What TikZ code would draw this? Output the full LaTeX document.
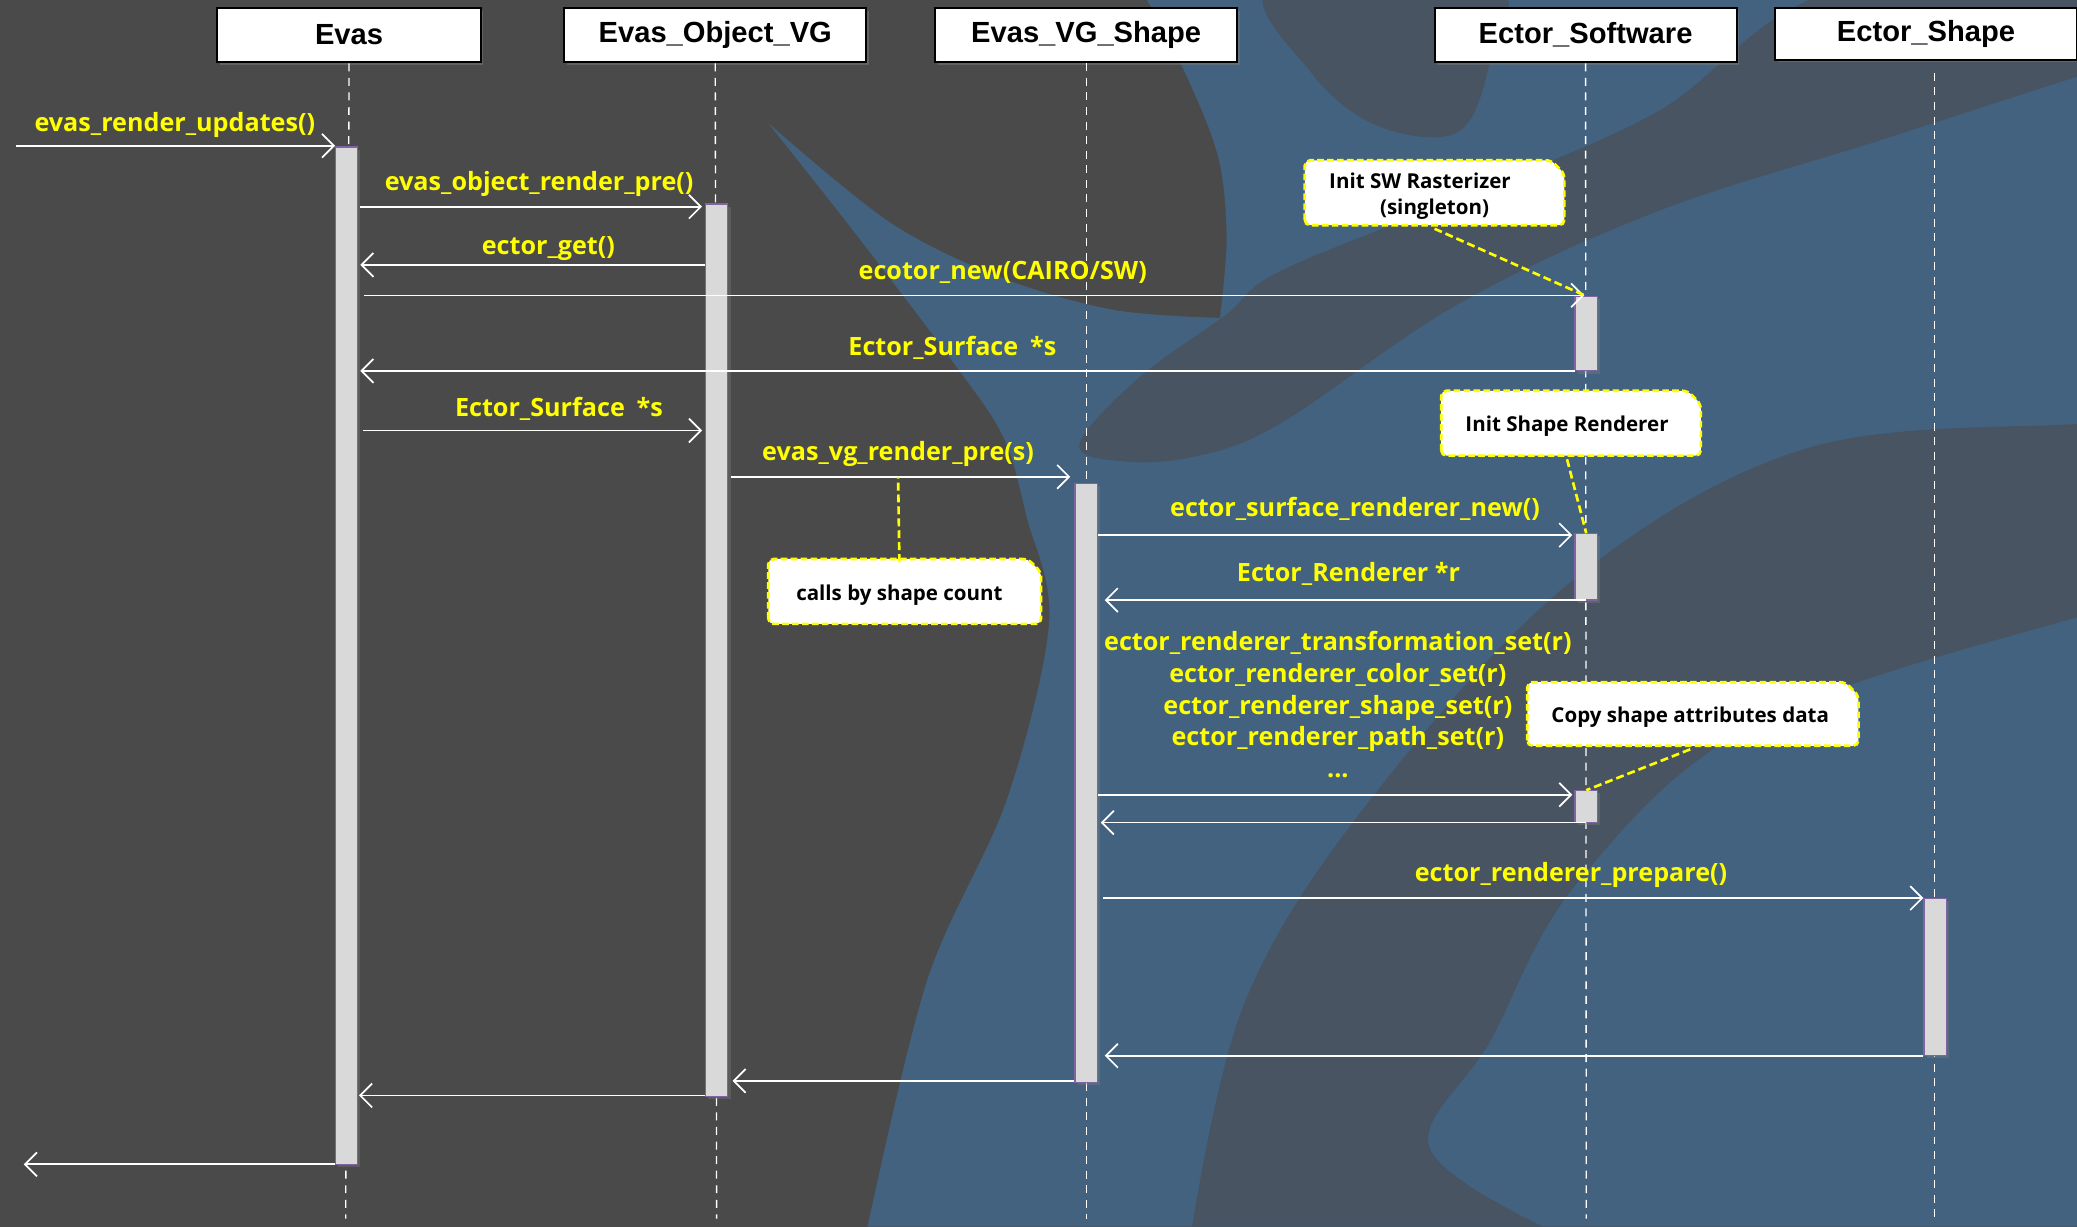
\documentclass[tikz,border=0pt]{standalone}
\usepackage{fontspec}
\setmainfont{Liberation Sans}
\newfontfamily\msgfont{Open Sans}
\usetikzlibrary{arrows.meta,shadows}

\definecolor{bgdark}{HTML}{4A4A4A}
\definecolor{bgblue}{HTML}{42627F}
\definecolor{bgband}{HTML}{485461}
\definecolor{msgyellow}{HTML}{FFFF00}
\definecolor{barfill}{HTML}{D9D9D9}
\definecolor{barline}{HTML}{8064A2}

\tikzset{
  head/.style={draw=black, fill=white, line width=1.6pt, minimum height=41pt,
    inner sep=0pt, font=\bfseries\fontsize{22}{24}\selectfont,
    drop shadow={shadow xshift=2pt, shadow yshift=-2pt, opacity=.45}},
  lifeline/.style={draw=white, line width=1pt, dash pattern=on 6pt off 5pt},
  actbar/.style={draw=barline, fill=barfill, line width=.9pt, minimum width=17pt,
    inner sep=0pt, drop shadow={shadow xshift=2pt, shadow yshift=-2pt, opacity=.35}},
  msg/.style={draw=white, line width=1.3pt,
    -{Straight Barb[length=9pt, width=18pt]}},
  msglabel/.style={text=msgyellow, inner sep=0pt, yshift=-1.5pt,
    font=\msgfont\bfseries\fontsize{19}{24}\selectfont},
  notebox/.style={fill=white, draw=msgyellow, line width=2pt,
    dash pattern=on 5pt off 2.5pt, rounded corners=4pt},
  notetext/.style={inner sep=0pt, text=black, align=center, yshift=-2.5pt,
    font=\msgfont\bfseries\fontsize{15.5}{20}\selectfont},
  notelink/.style={draw=msgyellow, line width=2pt, dash pattern=on 6pt off 3pt}
}

% note outline: left, top, right, bottom (top-right corner cut)
\newcommand\noteshape[4]{%
  \filldraw[notebox] (#1,#4) -- (#1,#2) -- (#3-10,#2) -- (#3,#2+10) -- (#3,#4) -- cycle;}

\begin{document}
\begin{tikzpicture}[x=1pt, y=-1pt]
\useasboundingbox (0,0) rectangle (1568,926);

% ---- backdrop ----
\fill[bgdark] (0,0) rectangle (1568,926);
\fill[bgblue]
  plot[smooth, tension=.55] coordinates {(580,93) (672,168) (757,210) (841,234) (921,240)}
  -- plot[smooth, tension=.55] coordinates {(921,240) (926,180) (920,120) (897,60) (866,0)}
  -- (1568,0) -- (1568,926) -- (655,926)
  -- plot[smooth, tension=.55] coordinates {(655,926) (700,740) (760,604) (792,470) (775,390) (757,329) (717,270) (644,174) (580,93)}
  -- cycle;
\fill[bgband] plot[smooth cycle, tension=.6] coordinates {
  (960,-10) (1127,-10) (1124,50) (1100,100) (1040,95) (990,55)};
\fill[bgband] plot[smooth cycle, tension=.6] coordinates {
  (815,335) (860,285) (925,238) (966,205) (1100,150) (1250,85) (1380,-5)
  (1600,-20) (1600,50) (1568,58) (1419,106) (1250,160) (1100,230) (966,320) (900,345) (845,348)};
\fill[bgband]
  plot[smooth, tension=.6] coordinates {(1600,318) (1568,320) (1362,339) (1185,440) (1032,607) (940,756) (900,926)}
  -- (1165,926)
  -- plot[smooth, tension=.6] coordinates {(1165,926) (1079,866) (1125,786) (1191,666) (1324,547) (1568,466) (1600,466)}
  -- cycle;

% ---- participants ----
\node[head, minimum width=199pt] (evas) at (263.5,26.5) {Evas};
\node[head, minimum width=228pt] (eovg) at (540,26.5) {Evas\_Object\_VG};
\node[head, minimum width=228pt] (evgs) at (820,26.5) {Evas\_VG\_Shape};
\node[head, minimum width=228pt] (esw)  at (1197,26.5) {Ector\_Software};
\node[head, minimum width=228pt, minimum height=39pt] (esh) at (1454,25.5) {Ector\_Shape};

\coordinate (evasEnd) at (261,920);
\coordinate (eovgEnd) at (541,920);
\coordinate (evgsEnd) at (820,920);
\coordinate (eswEnd)  at (1197.5,920);
\coordinate (eshTop)  at (1460.5,55);
\coordinate (eshEnd)  at (1460.5,920);
\draw[lifeline] (evas.south) -- (evasEnd);
\draw[lifeline] (eovg.south) -- (eovgEnd);
\draw[lifeline] (evgs.south) -- (evgsEnd);
\draw[lifeline] (esw.south)  -- (eswEnd);
\draw[lifeline] (eshTop) -- (eshEnd);

% ---- activations ----
\node[actbar, minimum height=768pt] (bE)  at (261.5,495) {};
\node[actbar, minimum height=674pt] (bO)  at (541,491) {};
\node[actbar, minimum height=452pt] (bV)  at (820,591) {};
\node[actbar, minimum height=56pt]  (bS1) at (1197.5,252) {};
\node[actbar, minimum height=50pt]  (bS2) at (1197.5,428) {};
\node[actbar, minimum height=24pt]  (bS3) at (1197.5,609) {};
\node[actbar, minimum height=119pt] (bSh) at (1461,737.5) {};

% ---- message end points ----
\coordinate (m1a) at (12,110);    \coordinate (m1b) at (253,110);
\coordinate (m2a) at (272,156);   \coordinate (m2b) at (530,156);
\coordinate (m3a) at (532,200);   \coordinate (m3b) at (272,200);
\coordinate (m4a) at (275,223);   \coordinate (m4b) at (1196,223);
\coordinate (m5a) at (1189,280);  \coordinate (m5b) at (272,280);
\coordinate (m6a) at (274,325);   \coordinate (m6b) at (530,325);
\coordinate (m7a) at (552,360);   \coordinate (m7b) at (808,360);
\coordinate (m7c) at (678,360);
\coordinate (m8a) at (829,404);   \coordinate (m8b) at (1187,404);
\coordinate (m9a) at (1197,453);  \coordinate (m9b) at (834,453);
\coordinate (m10a) at (829,600);  \coordinate (m10b) at (1187,600);
\coordinate (m11a) at (1197,621); \coordinate (m11b) at (831,621);
\coordinate (m12a) at (833,678);  \coordinate (m12b) at (1452,678);
\coordinate (m13a) at (1452,797); \coordinate (m13b) at (834,797);
\coordinate (m14a) at (811,816);  \coordinate (m14b) at (553,816);
\coordinate (m15a) at (532,827);  \coordinate (m15b) at (271,827);
\coordinate (m16a) at (253,879);  \coordinate (m16b) at (18,879);

\foreach \m in {1,...,16} \draw[msg] (m\m a) -- (m\m b);

% ---- message labels ----
\node[msglabel] (l1)  at (132,93)   {evas\_render\_updates()};
\node[msglabel] (l2)  at (407,137)  {evas\_object\_render\_pre()};
\node[msglabel] (l3)  at (414,186)  {ector\_get()};
\node[msglabel] (l4)  at (757,204)  {ecotor\_new(CAIRO/SW)};
\node[msglabel] (l5)  at (719,261)  {Ector\_Surface\hspace{4pt} *s};
\node[msglabel] (l6)  at (422,307)  {Ector\_Surface\hspace{4pt} *s};
\node[msglabel] (l7)  at (678,341)  {evas\_vg\_render\_pre(s)};
\node[msglabel] (l8)  at (1023,383) {ector\_surface\_renderer\_new()};
\node[msglabel] (l9)  at (1018,432) {Ector\_Renderer *r};
\node[msglabel, align=center, yshift=1.5pt] (l10) at (1010,532)
  {ector\_renderer\_transformation\_set(r)\\ector\_renderer\_color\_set(r)\\
   ector\_renderer\_shape\_set(r)\\ector\_renderer\_path\_set(r)\\...};
\node[msglabel] (l12) at (1186,659) {ector\_renderer\_prepare()};

% ---- notes ----
\noteshape{985}{121}{1181}{170}
\node[notetext, minimum width=196pt, minimum height=49pt] (n1) at (1083,145.5)
  {Init SW Rasterizer\hspace*{22pt}\\(singleton)};
\noteshape{1088}{295}{1284}{344}
\node[notetext, minimum width=196pt, minimum height=49pt] (n2) at (1183,319.5)
  {Init Shape Renderer};
\noteshape{580}{422}{786}{471}
\node[notetext, minimum width=206pt, minimum height=49pt] (n3) at (679,446.5)
  {calls by shape count};
\noteshape{1153}{515}{1403}{563}
\node[notetext, minimum width=250pt, minimum height=48pt] (n4) at (1276,539)
  {Copy shape attributes data};

\draw[notelink] (n1.south) -- (bS1.north);
\draw[notelink] (n2.south) -- (bS2.north);
\draw[notelink] (n3.north) -- (m7c);
\draw[notelink] (n4.south) -- (bS3.north);
\end{tikzpicture}
\end{document}
